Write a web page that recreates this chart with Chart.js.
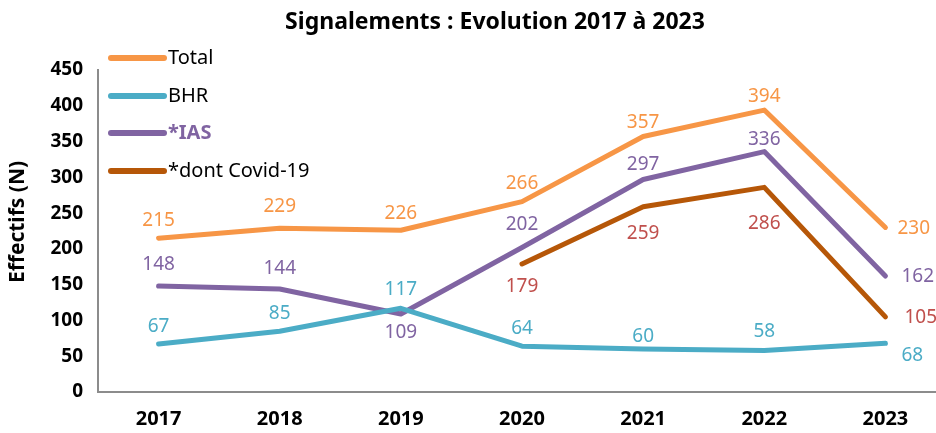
<!DOCTYPE html>
<html>
<head>
<meta charset="utf-8">
<script src="https://cdn.jsdelivr.net/npm/chart.js@4"></script>
<style>
  html, body { margin: 0; padding: 0; background: #fff; overflow: hidden; }
  #wrap { width: 946px; height: 433px; position: relative; }
</style>
</head>
<body>
<div id="wrap"><canvas id="lineChart"></canvas></div>
<script>
// values
const years = ['2017', '2018', '2019', '2020', '2021', '2022', '2023'];
const total = [215, 229, 226, 266, 357, 394, 230];
const bhr = [67, 85, 117, 64, 60, 58, 68];
const ias = [148, 144, 109, 202, 297, 336, 162];
const covid = [null, null, null, 179, 259, 286, 105];
const yTicks = [0, 50, 100, 150, 200, 250, 300, 350, 400, 450];

const FONT = '"Noto Sans", "Open Sans", sans-serif';

// value label placement, [dx, dy] from the point (dx > 0 means left aligned, to the right)
const placeTotal = [[0, -18], [0, -22], [0, -17], [0, -18], [0, -14], [0, -13], [12, 1]];
const placeBhr = [[0, -17], [0, -18], [0, -19], [0, -18], [0, -12], [0, -19], [16, 12]];
const placeIas = [[0, -22], [0, -20], [0, 19], [0, -23], [0, -15], [0, -12], [16, 1]];
const placeCovid = [null, null, null, [0, 23], [0, 27], [0, 36], [19, 1]];

function series(label, data, color, labelColor, place) {
  return {
    label: label,
    data: data,
    borderColor: color,
    backgroundColor: color,
    borderWidth: 5,
    borderCapStyle: 'round',
    borderJoinStyle: 'round',
    pointRadius: 0,
    tension: 0,
    spanGaps: false,
    labelColor: labelColor,
    labelPlace: place
  };
}

// title, y title, legend and value labels
const decor = {
  id: 'decor',
  afterDatasetsDraw(chart) {
    const ctx = chart.ctx;
    ctx.save();

    // title
    ctx.fillStyle = '#000';
    ctx.font = 'bold 23px ' + FONT;
    ctx.textAlign = 'center';
    ctx.textBaseline = 'middle';
    ctx.fillText('Signalements : Evolution 2017 à 2023', 495, 22);

    // y axis title
    ctx.save();
    ctx.translate(18, 222);
    ctx.rotate(-Math.PI / 2);
    ctx.font = 'bold 21px ' + FONT;
    ctx.fillText('Effectifs (N)', 0, 0);
    ctx.restore();

    // legend
    const legY = [58, 96, 133, 171];
    chart.data.datasets.forEach((ds, i) => {
      const y = legY[i];
      ctx.strokeStyle = ds.borderColor;
      ctx.lineWidth = 6;
      ctx.lineCap = 'round';
      ctx.beginPath();
      ctx.moveTo(111, y);
      ctx.lineTo(164, y);
      ctx.stroke();
      const bold = ds.label === '*IAS';
      ctx.font = (bold ? 'bold ' : '') + '20px ' + FONT;
      ctx.fillStyle = bold ? ds.borderColor : '#000';
      ctx.textAlign = 'left';
      ctx.textBaseline = 'middle';
      ctx.fillText(ds.label, 168, y);
    });

    // value labels
    ctx.font = '19px ' + FONT;
    chart.data.datasets.forEach((ds, di) => {
      const meta = chart.getDatasetMeta(di);
      meta.data.forEach((pt, i) => {
        const v = ds.data[i];
        const p = ds.labelPlace[i];
        if (v === null || !p) return;
        ctx.textAlign = p[0] > 0 ? 'left' : 'center';
        ctx.fillStyle = ds.labelColor;
        ctx.textBaseline = 'middle';
        ctx.fillText(String(v), pt.x + p[0], pt.y + p[1]);
      });
    });
    ctx.restore();
  }
};

new Chart(document.getElementById('lineChart'), {
  type: 'line',
  data: {
    labels: years,
    datasets: [
      series('Total', total, '#F79646', '#F79646', placeTotal),
      series('BHR', bhr, '#4BACC6', '#4BACC6', placeBhr),
      series('*IAS', ias, '#8064A2', '#8064A2', placeIas),
      series('*dont Covid-19', covid, '#B65708', '#C0504D', placeCovid)
    ]
  },
  options: {
    responsive: true,
    maintainAspectRatio: false,
    animation: false,
    layout: { padding: { top: 70, left: 0, right: 0, bottom: 0 } },
    plugins: {
      legend: { display: false },
      title: { display: false },
      tooltip: { enabled: false }
    },
    scales: {
      x: {
        offset: true,
        grid: { display: false, drawTicks: false },
        border: { display: true, color: '#8c8c8c', width: 2 },
        ticks: {
          color: '#000',
          font: { family: FONT, size: 20, weight: 'bold' },
          padding: 15,
          maxRotation: 0
        },
        afterFit(scale) { scale.height = 41; }
      },
      y: {
        min: 0,
        max: 450,
        grid: { display: false, drawTicks: false },
        border: { display: true, color: '#8c8c8c', width: 2 },
        afterBuildTicks(scale) { scale.ticks = yTicks.map(v => ({ value: v })); },
        ticks: {
          color: '#000',
          font: { family: FONT, size: 19, weight: 'bold' },
          padding: 15
        },
        afterFit(scale) { scale.width = 98; }
      }
    }
  },
  plugins: [decor]
});
</script>
</body>
</html>
